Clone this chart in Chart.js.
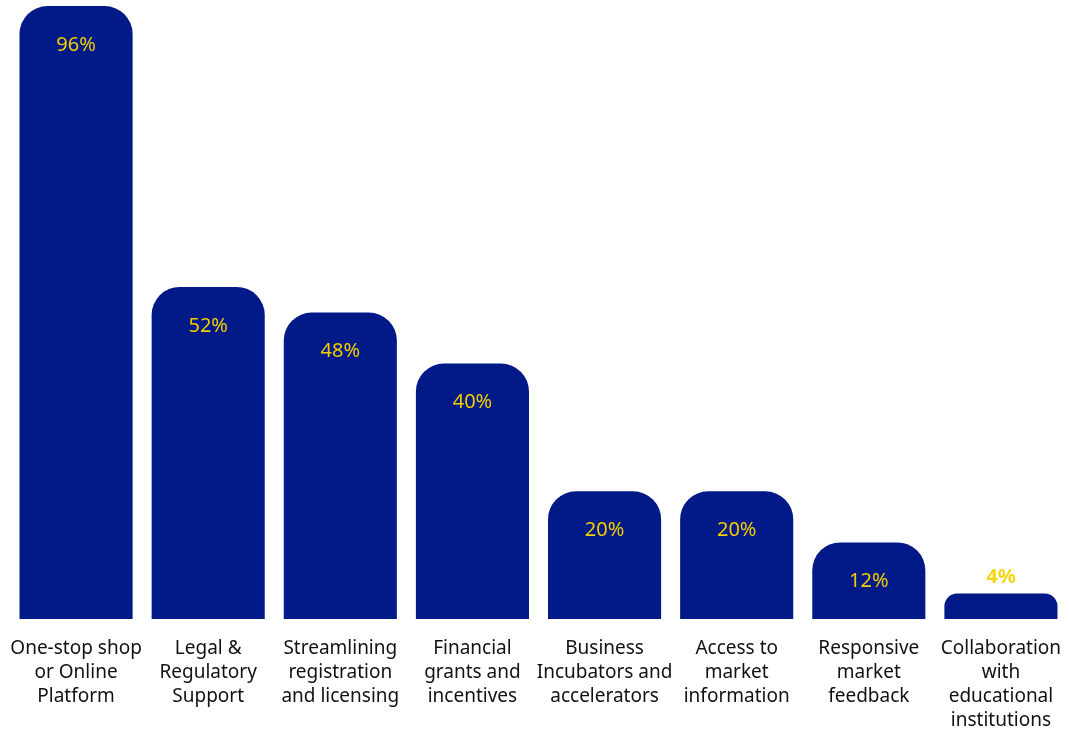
<!DOCTYPE html>
<html>
<head>
<meta charset="utf-8">
<script src="https://cdn.jsdelivr.net/npm/chart.js@4/dist/chart.umd.min.js"></script>
<style>
  html, body { margin: 0; padding: 0; background: #fff; }
  #wrap { width: 1069px; height: 731px; }
</style>
</head>
<body>
<div id="wrap"><canvas id="myChart" width="1069" height="731"></canvas></div>
<script>
// chart data
const categories = [
  ["One-stop shop", "or Online", "Platform"],
  ["Legal &", "Regulatory", "Support"],
  ["Streamlining", "registration", "and licensing"],
  ["Financial", "grants and", "incentives"],
  ["Business", "Incubators and", "accelerators"],
  ["Access to", "market", "information"],
  ["Responsive", "market", "feedback"],
  ["Collaboration", "with", "educational", "institutions"]
];
const percentValues = [96, 52, 48, 40, 20, 20, 12, 4];

const barColor = "#011a88";
const labelColor = "#f0cc00";
const fontName = "'Noto Sans', 'Open Sans', sans-serif";

// draws the % labels, inside the bar near its top, or above it when the bar is short
const valueLabels = {
  id: "valueLabels",
  afterDatasetsDraw(chart) {
    const ctx = chart.ctx;
    const meta = chart.getDatasetMeta(0);
    ctx.save();
    ctx.textAlign = "center";
    ctx.textBaseline = "middle";
    meta.data.forEach((bar, i) => {
      const h = bar.base - bar.y;
      const txt = percentValues[i] + "%";
      if (h > 40) {
        ctx.font = "20px " + fontName;
        ctx.fillStyle = labelColor;
        ctx.fillText(txt, bar.x, bar.y + 39);
      } else {
        ctx.font = "bold 20px " + fontName;
        ctx.fillStyle = "#f7d414";
        ctx.fillText(txt, bar.x, bar.y - 16);
      }
    });
    ctx.restore();
  }
};

const ctx = document.getElementById("myChart").getContext("2d");
new Chart(ctx, {
  type: "bar",
  data: {
    labels: categories,
    datasets: [{
      data: percentValues,
      backgroundColor: barColor,
      borderWidth: 0,
      borderRadius: { topLeft: 28, topRight: 28 },
      borderSkipped: "bottom",
      categoryPercentage: 1,
      barPercentage: 0.856
    }]
  },
  options: {
    responsive: false,
    animation: false,
    layout: { padding: { top: 6, left: 10, right: 2, bottom: 0 } },
    plugins: {
      legend: { display: false },
      tooltip: { enabled: false }
    },
    scales: {
      x: {
        grid: { display: false, drawTicks: false },
        border: { display: false },
        ticks: {
          color: "#111",
          font: { family: fontName, size: 19, lineHeight: 1.26 },
          padding: 18,
          autoSkip: false,
          maxRotation: 0,
          minRotation: 0
        },
        afterFit(scale) {
          // keep the wide edge labels from shrinking the plot
          scale.paddingLeft = 0;
          scale.paddingRight = 0;
          scale.height = 112;
        }
      },
      y: {
        display: false,
        min: 0,
        max: 96
      }
    }
  },
  plugins: [valueLabels]
});
</script>
</body>
</html>
